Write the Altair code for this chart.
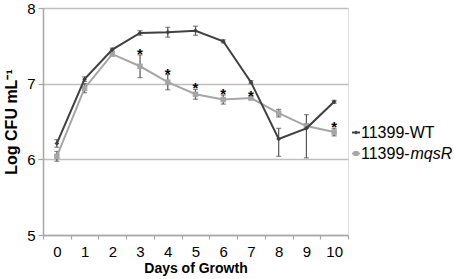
import altair as alt
import pandas as pd

days = list(range(11))
wt = [6.21, 7.06, 7.45, 7.67, 7.68, 7.70, 7.56, 7.02, 6.27, 6.41, 6.76]
wt_plus = [0.05, 0.03, 0.02, 0.03, 0.065, 0.06, 0.02, 0.02, 0.14, 0.18, 0.02]
wt_minus = [0.05, 0.03, 0.02, 0.03, 0.065, 0.06, 0.02, 0.02, 0.23, 0.39, 0.02]
mq = [6.04, 6.94, 7.39, 7.23, 7.02, 6.86, 6.79, 6.81, 6.61, 6.44, 6.36]
mq_err = [0.065, 0.06, 0.02, 0.15, 0.10, 0.065, 0.06, 0.02, 0.05, 0.03, 0.05]
star_days = [3, 4, 5, 6, 7, 10]
x_tick_labels = days
x_tick_marks = [d - 0.5 for d in days] + [10.5]

WT_C = "#404040"
MQ_C = "#a6a6a6"
ERR_C = "#555555"
FONT = "Liberation Sans"

rows = []
for d, v, p, m in zip(days, wt, wt_plus, wt_minus):
    rows.append({"day": d, "value": v, "lo": v - m, "hi": v + p, "series": "WT"})
for d, v, e in zip(days, mq, mq_err):
    rows.append({"day": d, "value": v, "lo": v - e, "hi": v + e, "series": "mqsR"})
df = pd.DataFrame(rows)
df_wt = df[df.series == "WT"]
df_mq = df[df.series == "mqsR"]
stars = df_mq[df_mq.day.isin(star_days)]

xscale = alt.Scale(domain=[-0.5, 10.5], nice=False, zero=False)
yscale = alt.Scale(domain=[5, 8], nice=False, zero=False)

x_main_axis = alt.Axis(values=x_tick_labels, ticks=False, domain=True, domainColor="#a6a6a6",
                       domainWidth=1.5, grid=False, labelFont=FONT, labelFontSize=15,
                       labelColor="#000000", labelPadding=9, title="Days of Growth",
                       titleFont=FONT, titleFontSize=14, titleFontWeight="bold",
                       titleColor="#000000", titleY=37.5, titleBaseline="alphabetic",
                       orient="bottom")
x_tick_axis = alt.Axis(values=x_tick_marks, labels=False, ticks=True, tickSize=4,
                       tickColor="#a6a6a6", tickWidth=1.2, domain=False, grid=False,
                       title=None, orient="bottom")
y_axis = alt.Axis(values=[5, 6, 7, 8], grid=True, gridColor="#bfbfbf", gridWidth=1.5,
                  domain=True, domainColor="#a6a6a6", domainWidth=1.5, ticks=True,
                  tickSize=5, tickColor="#a6a6a6", tickWidth=1.2, labelFont=FONT,
                  labelFontSize=15, labelColor="#000000", labelPadding=3,
                  title="Log CFU mL⁻¹", titleFont=FONT, titleFontSize=16,
                  titleFontWeight="bold", titleColor="#000000", titleX=-27,
                  titleY=113.5, titleBaseline="alphabetic")


def X(field="day"):
    return alt.X(f"{field}:Q", scale=xscale, axis=x_main_axis)


def Y(field="value"):
    return alt.Y(f"{field}:Q", scale=yscale, axis=y_axis)


err_rules = alt.Chart(df).mark_rule(color=ERR_C, strokeWidth=1.2).encode(
    x=X(), y=Y("lo"), y2="hi")
err_lo = alt.Chart(df).mark_tick(color=ERR_C, orient="horizontal", size=5, thickness=1.2).encode(
    x=X(), y=Y("lo"))
err_hi = alt.Chart(df).mark_tick(color=ERR_C, orient="horizontal", size=5, thickness=1.2).encode(
    x=X(), y=Y("hi"))

line_mq = alt.Chart(df_mq).mark_line(color=MQ_C, strokeWidth=2).encode(x=X(), y=Y())
pts_mq = alt.Chart(df_mq).mark_point(shape="square", filled=True, color=MQ_C, size=30, opacity=1).encode(x=X(), y=Y())
line_wt = alt.Chart(df_wt).mark_line(color=WT_C, strokeWidth=2).encode(x=X(), y=Y())
pts_wt = alt.Chart(df_wt).mark_point(shape="diamond", filled=True, color=WT_C, size=22, opacity=1).encode(x=X(), y=Y())

star_text = alt.Chart(stars).mark_text(text="*", font=FONT, fontSize=15, fontWeight="bold",
                                       color="#000000", baseline="alphabetic", dy=4).encode(
    x=X(), y=Y("hi"))

main = alt.layer(err_rules, err_lo, err_hi, line_mq, pts_mq, line_wt, pts_wt, star_text)

tick_layer = alt.Chart(df_wt).mark_point(opacity=0).encode(
    x=alt.X("day:Q", scale=xscale, axis=x_tick_axis), y=Y())

one = pd.DataFrame({"k": [0]})
leg_wt_line = alt.Chart(one).mark_rule(color=WT_C, strokeWidth=2).encode(
    x=alt.value(309), x2=alt.value(317), y=alt.value(124.5))
leg_wt_pt = alt.Chart(one).mark_point(shape="diamond", filled=True, color=WT_C, size=18, opacity=1).encode(
    x=alt.value(313), y=alt.value(124.5))
leg_wt_txt = alt.Chart(one).mark_text(text="11399-WT", font=FONT, fontSize=16, align="left",
                                      baseline="middle", color="#000000").encode(
    x=alt.value(318), y=alt.value(125))
leg_mq_line = alt.Chart(one).mark_rule(color=MQ_C, strokeWidth=2).encode(
    x=alt.value(309), x2=alt.value(317), y=alt.value(145.5))
leg_mq_pt = alt.Chart(one).mark_point(shape="square", filled=True, color=MQ_C, size=24, opacity=1).encode(
    x=alt.value(313), y=alt.value(145.5))
leg_mq_txt1 = alt.Chart(one).mark_text(text="11399-", font=FONT, fontSize=16, align="left",
                                       baseline="middle", color="#000000").encode(
    x=alt.value(318), y=alt.value(146))
leg_mq_txt2 = alt.Chart(one).mark_text(text="mqsR", font=FONT, fontSize=16, fontStyle="italic",
                                       align="left", baseline="middle", color="#000000").encode(
    x=alt.value(367.5), y=alt.value(146))

chart = alt.layer(
    tick_layer, main,
    leg_wt_line, leg_wt_pt, leg_wt_txt, leg_mq_line, leg_mq_pt, leg_mq_txt1, leg_mq_txt2,
).resolve_axis(x="independent").properties(
    width=305, height=227,
    autosize=alt.AutoSizeParams(type="none"),
    padding={"left": 43, "top": 8, "right": 106, "bottom": 44},
).configure_view(stroke=None).configure(background="#ffffff")

chart.save("out.html", embed_options={"renderer": "svg", "actions": False})
